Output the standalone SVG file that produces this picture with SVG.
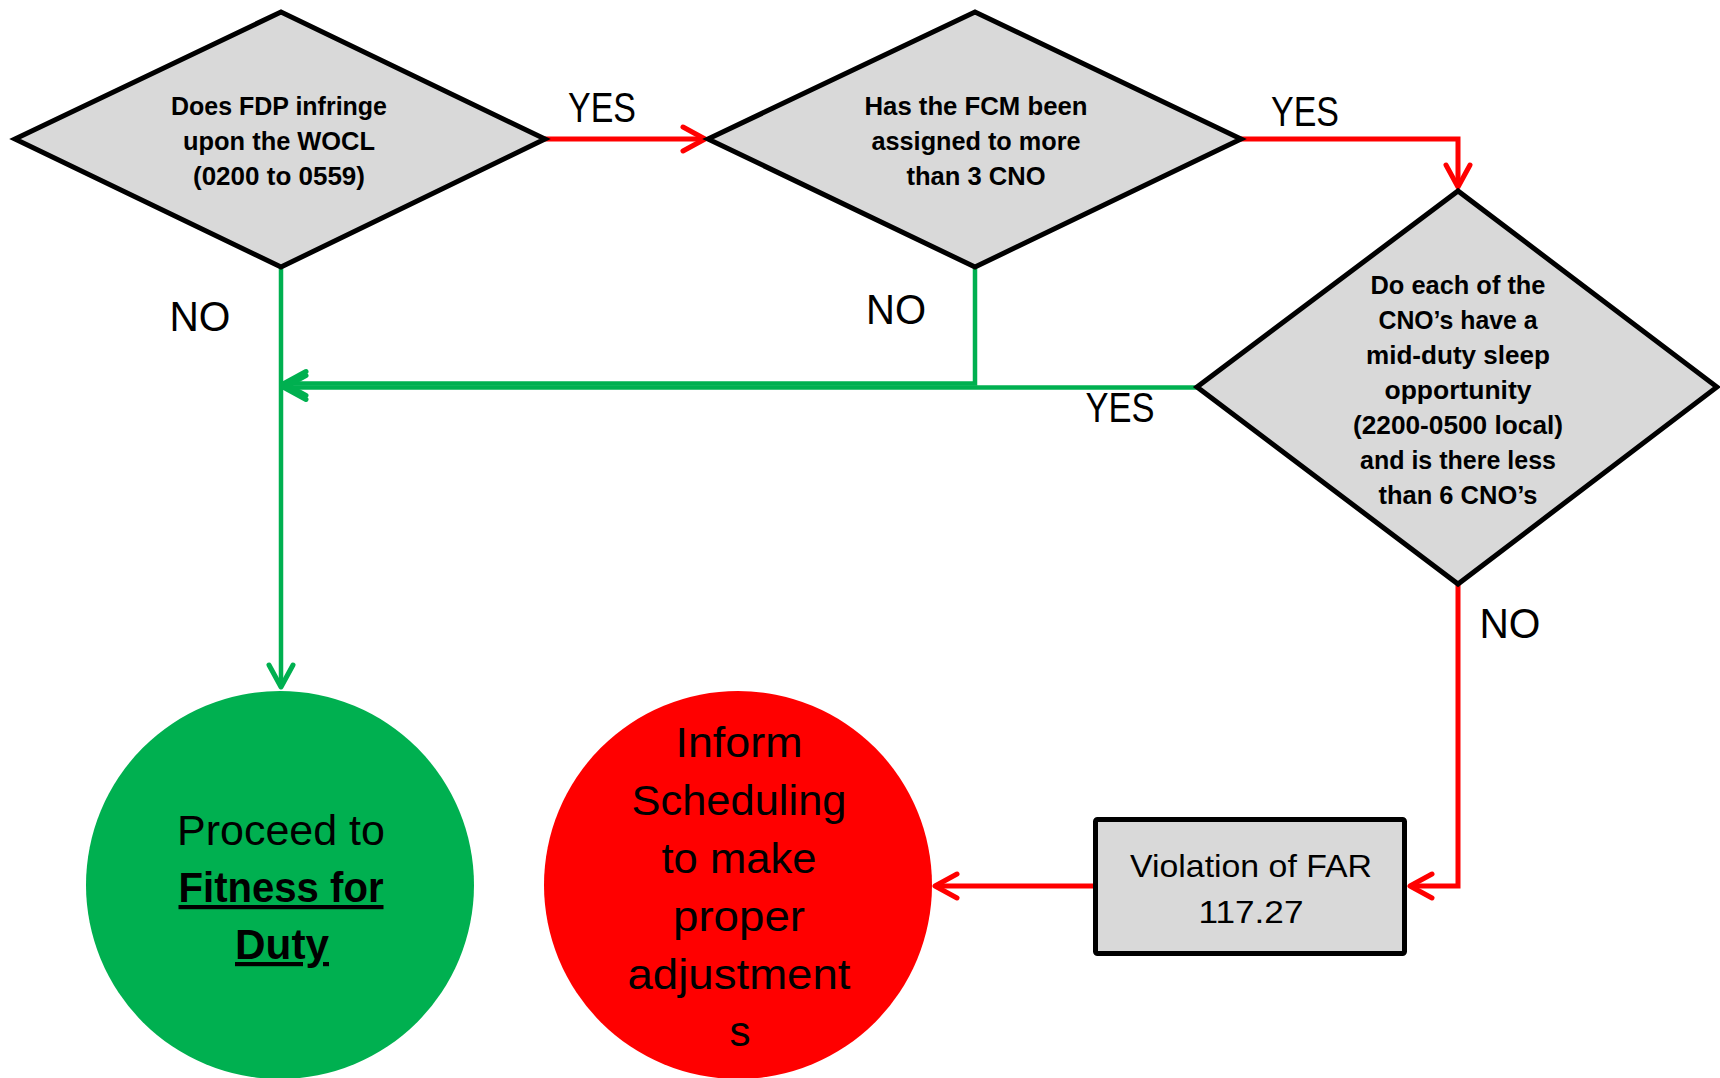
<svg xmlns="http://www.w3.org/2000/svg" width="1720" height="1078" viewBox="0 0 1720 1078">
<style>
.dia{fill:#d9d9d9;stroke:#000;stroke-width:5;stroke-linejoin:miter}
.box{fill:#d9d9d9;stroke:#000;stroke-width:5}
.qt{font-family:"Liberation Sans",Arial,sans-serif;font-weight:bold;font-size:25px;fill:#000;text-anchor:middle}
.lbl{font-family:"Liberation Sans",Arial,sans-serif;font-size:42px;fill:#000;text-anchor:middle}
.bt{font-family:"Liberation Sans",Arial,sans-serif;font-size:32px;fill:#000;text-anchor:middle}
.ct{font-family:"Liberation Sans",Arial,sans-serif;font-size:42px;fill:#000;text-anchor:middle}
.red{fill:none;stroke:#ff0000;stroke-width:5}
.grn{fill:none;stroke:#00b050;stroke-width:4.5}
</style>
<defs>
<marker id="ar" markerUnits="userSpaceOnUse" viewBox="-30 -18 36 36" refX="0" refY="0" markerWidth="36" markerHeight="36" orient="auto">
<path d="M-22,-12 L0,0 L-22,12" fill="none" stroke="#ff0000" stroke-width="5" stroke-linecap="round" stroke-linejoin="round"/>
</marker>
<marker id="ag" markerUnits="userSpaceOnUse" viewBox="-30 -18 36 36" refX="0" refY="0" markerWidth="36" markerHeight="36" orient="auto">
<path d="M-22,-12 L0,0 L-22,12" fill="none" stroke="#00b050" stroke-width="5" stroke-linecap="round" stroke-linejoin="round"/>
</marker>
</defs>
<rect x="0" y="0" width="1720" height="1078" fill="#fff"/>

<g id="connectors">
<path class="red" d="M545,139 H705" marker-end="url(#ar)"/>
<path class="red" d="M1241,139 H1458 V187" marker-end="url(#ar)"/>
<path class="red" d="M1458,584 V886 H1410" marker-end="url(#ar)"/>
<path class="red" d="M1093,886 H935" marker-end="url(#ar)"/>
<path class="grn" d="M281,267 V687" marker-end="url(#ag)"/>
<path class="grn" d="M975,267 V383.5 H284" marker-end="url(#ag)"/>
<path class="grn" d="M1197,387.5 H284" marker-end="url(#ag)"/>
<text class="lbl" x="602" y="122" textLength="68" lengthAdjust="spacingAndGlyphs">YES</text>
<text class="lbl" x="1305" y="126" textLength="68" lengthAdjust="spacingAndGlyphs">YES</text>
<text class="lbl" x="200" y="331" textLength="61" lengthAdjust="spacingAndGlyphs">NO</text>
<text class="lbl" x="896" y="324" textLength="60" lengthAdjust="spacingAndGlyphs">NO</text>
<text class="lbl" x="1120" y="422" textLength="69" lengthAdjust="spacingAndGlyphs">YES</text>
<text class="lbl" x="1510" y="638" textLength="61" lengthAdjust="spacingAndGlyphs">NO</text>
</g>

<g id="q1">
<polygon class="dia" points="15,139 281,12 545,139 281,267"/>
<text class="qt" x="279" y="115" textLength="216" lengthAdjust="spacingAndGlyphs">Does FDP infringe</text>
<text class="qt" x="279" y="150" textLength="192" lengthAdjust="spacingAndGlyphs">upon the WOCL</text>
<text class="qt" x="279" y="185" textLength="172" lengthAdjust="spacingAndGlyphs">(0200  to 0559)</text>
</g>

<g id="q2">
<polygon class="dia" points="708,139 975,12 1241,139 975,267"/>
<text class="qt" x="976" y="115" textLength="223" lengthAdjust="spacingAndGlyphs">Has the FCM been</text>
<text class="qt" x="976" y="150" textLength="209" lengthAdjust="spacingAndGlyphs">assigned to more</text>
<text class="qt" x="976" y="185" textLength="139" lengthAdjust="spacingAndGlyphs">than 3 CNO</text>
</g>

<g id="q3">
<polygon class="dia" points="1197,387 1458,191 1717,387 1458,584"/>
<text class="qt" x="1458" y="294" textLength="175" lengthAdjust="spacingAndGlyphs">Do each of the</text>
<text class="qt" x="1458" y="329" textLength="159" lengthAdjust="spacingAndGlyphs">CNO’s have a</text>
<text class="qt" x="1458" y="364" textLength="184" lengthAdjust="spacingAndGlyphs">mid-duty sleep</text>
<text class="qt" x="1458" y="399" textLength="147" lengthAdjust="spacingAndGlyphs">opportunity</text>
<text class="qt" x="1458" y="434" textLength="210" lengthAdjust="spacingAndGlyphs">(2200-0500  local)</text>
<text class="qt" x="1458" y="469" textLength="196" lengthAdjust="spacingAndGlyphs">and is there less</text>
<text class="qt" x="1458" y="504" textLength="159" lengthAdjust="spacingAndGlyphs">than 6 CNO’s</text>
</g>

<g id="violation">
<rect class="box" x="1095.5" y="819.5" width="309" height="134" rx="2"/>
<text class="bt" x="1251" y="877" textLength="242" lengthAdjust="spacingAndGlyphs">Violation of FAR</text>
<text class="bt" x="1251" y="923" textLength="105" lengthAdjust="spacingAndGlyphs">117.27</text>
</g>

<g id="fitness">
<circle cx="280" cy="885" r="194" fill="#00b050"/>
<text class="ct" x="281" y="845" textLength="208" lengthAdjust="spacingAndGlyphs">Proceed to</text>
<text class="ct" x="281" y="902" font-weight="bold" text-decoration="underline" textLength="205" lengthAdjust="spacingAndGlyphs">Fitness for</text>
<text class="ct" x="282" y="959" font-weight="bold" text-decoration="underline" textLength="94" lengthAdjust="spacingAndGlyphs">Duty</text>
</g>

<g id="inform">
<circle cx="738" cy="885" r="194" fill="#ff0000"/>
<text class="ct" x="739" y="757" textLength="127" lengthAdjust="spacingAndGlyphs">Inform</text>
<text class="ct" x="739" y="815" textLength="215" lengthAdjust="spacingAndGlyphs">Scheduling</text>
<text class="ct" x="739" y="873" textLength="155" lengthAdjust="spacingAndGlyphs">to make</text>
<text class="ct" x="739" y="931" textLength="132" lengthAdjust="spacingAndGlyphs">proper</text>
<text class="ct" x="739" y="989" textLength="223" lengthAdjust="spacingAndGlyphs">adjustment</text>
<text class="ct" x="740" y="1046">s</text>
</g>
</svg>
